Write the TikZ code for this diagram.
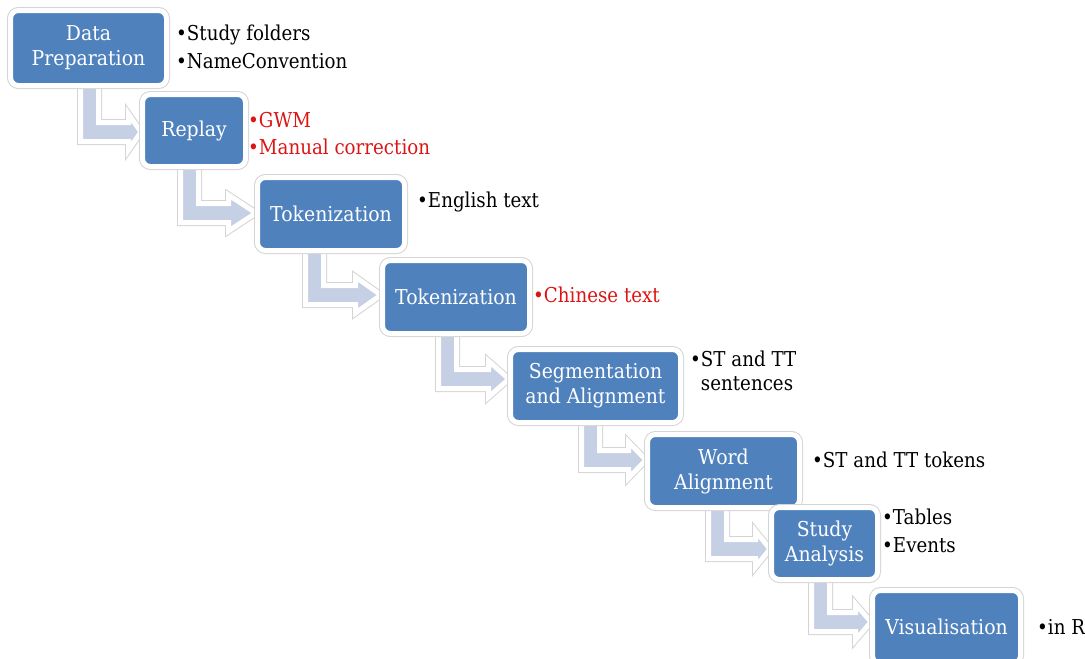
\documentclass[tikz,border=0pt]{standalone}
\usepackage{fontspec}
\setmainfont{DejaVu Serif}
\newfontfamily\boxfont{DejaVu Serif}[FakeStretch=0.92]
\newfontfamily\bulfont{DejaVu Serif}[FakeStretch=0.89]
\usetikzlibrary{calc}
\pgfdeclarelayer{bg}
\pgfsetlayers{bg,main}
\definecolor{boxblue}{RGB}{79,129,189}
\definecolor{arrowfill}{RGB}{197,208,228}
\definecolor{rimgray}{RGB}{212,212,212}
\definecolor{bulred}{RGB}{220,20,20}
\tikzset{
  stagebox/.style={rectangle, rounded corners=8pt, fill=boxblue, draw=white,
    line width=5pt, preaction={draw=rimgray, line width=7pt}, text=white,
    font=\boxfont\fontsize{20.5}{25}\selectfont, align=center, inner sep=0pt},
  bentsty/.style={fill=arrowfill, draw=white, line width=5pt, line join=miter,
    preaction={draw=rimgray, line width=7pt}},
  bul/.style={anchor=base west, inner sep=0pt, font=\bulfont\fontsize{20.5}{25}\selectfont},
  redbul/.style={bul, text=bulred},
}
% #1 from node, #2 to node, #3 outer left x of shaft, #4 outer bottom y, #5 head base x
\newcommand\bentarrow[5]{%
  \path[bentsty] let \p1=(#1.south), \p2=(#2.west) in
    ({(#3+3.5)*1pt},{\y1+8pt}) --
    ({(#3+3.5)*1pt},{-(#4-3.5)*1pt}) --
    ({(#5+3.5)*1pt},{-(#4-3.5)*1pt}) --
    ({(#5+3.5)*1pt},{-(#4-13+18)*1pt}) --
    ({\x2+1pt},{-(#4-13)*1pt}) --
    ({(#5+3.5)*1pt},{-(#4-13-18)*1pt}) --
    ({(#5+3.5)*1pt},{-(#4-22.5)*1pt}) --
    ({(#3+21.5)*1pt},{-(#4-22.5)*1pt}) --
    ({(#3+21.5)*1pt},{\y1+8pt}) -- cycle;}
\begin{document}
\begin{tikzpicture}[x=1pt,y=-1pt]
\useasboundingbox (0,0) rectangle (1085,659);
% stage boxes
\node[stagebox, minimum width=156pt, minimum height=75pt] (d1) at (88.5,48) {Data\\Preparation};
\node[stagebox, minimum width=103pt, minimum height=72pt] (d2) at (194,130.5) {Replay};
\node[stagebox, minimum width=147pt, minimum height=73pt] (d3) at (331,214) {Tokenization};
\node[stagebox, minimum width=147pt, minimum height=73pt] (d4) at (456,297) {Tokenization};
\node[stagebox, minimum width=170pt, minimum height=73pt] (d5) at (595.5,386) {Segmentation\\and Alignment};
\node[stagebox, minimum width=152pt, minimum height=73pt] (d6) at (723.5,471) {Word\\Alignment};
\node[stagebox, minimum width=106pt, minimum height=72pt] (d7) at (824.5,543.5) {Study\\Analysis};
\node[stagebox, minimum width=148pt, minimum height=73pt] (d8) at (946.5,627) {Visualisation};
% bent arrows
\begin{pgfonlayer}{bg}
\bentarrow{d1}{d2}{77}{145}{125}
\bentarrow{d2}{d3}{177}{226}{225}
\bentarrow{d3}{d4}{302}{308}{352}
\bentarrow{d4}{d5}{435}{392}{485}
\bentarrow{d5}{d6}{578}{473}{625}
\bentarrow{d6}{d7}{705}{562}{752}
\bentarrow{d7}{d8}{808}{635}{852}
\end{pgfonlayer}
% bullet texts
\node[bul] (t1a) at (176,40) {•Study folders};
\node[bul] (t1b) at (176,68) {•NameConvention};
\node[redbul] (t2a) at (248,127) {•GWM};
\node[redbul] (t2b) at (248,154) {•Manual correction};
\node[bul] (t3a) at (417,207) {•English text};
\node[redbul] (t4a) at (533,302) {•Chinese text};
\node[bul] (t5a) at (690,366) {•ST and TT};
\node[bul] (t5b) at (690,390) {\phantom{•}sentences};
\node[bul] (t6a) at (812,467) {•ST and TT tokens};
\node[bul] (t7a) at (882,524) {•Tables};
\node[bul] (t7b) at (882,552) {•Events};
\node[bul] (t8a) at (1037,634) {•in R};
\end{tikzpicture}
\end{document}
